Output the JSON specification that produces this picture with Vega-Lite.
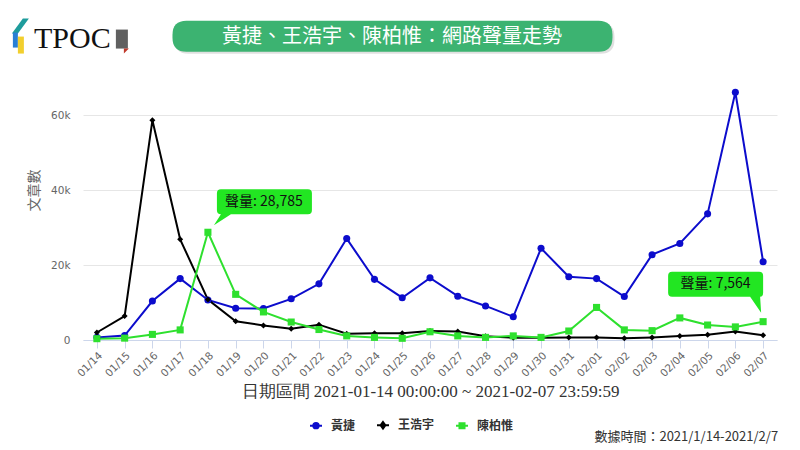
{
  "$schema": "https://vega.github.io/schema/vega-lite/v6.json",
  "width": 694,
  "height": 262,
  "autosize": {"type": "none"},
  "padding": {"left": 83, "top": 78, "right": 23, "bottom": 110},
  "background": "white",
  "config": {
    "view": {"stroke": null},
    "font": "Noto Sans CJK TC",
    "axisX": {
      "labelAngle": -45, "labelFont": "DejaVu Sans", "labelFontSize": 10.5, "labelColor": "#666666",
      "domainColor": "#ccd6eb", "tickColor": "#ccd6eb", "tickSize": 8, "labelPadding": 2, "grid": false,
      "titleFont": "Liberation Serif", "titleFontSize": 17, "titleColor": "#333333", "titleFontWeight": "normal",
      "titleY": 51, "titleBaseline": "middle"
    },
    "axisY": {
      "grid": true, "gridColor": "#e6e6e6", "domain": false, "ticks": false, "labelPadding": 13,
      "labelFont": "DejaVu Sans", "labelFontSize": 10.5, "labelColor": "#666666",
      "titleFont": "Noto Sans CJK TC", "titleFontSize": 14, "titleColor": "#666666", "titleFontWeight": "normal",
      "titleAngle": -90, "titleX": -49, "titleY": 112, "titleAlign": "center", "titleBaseline": "middle"
    }
  },
  "datasets": {
    "series": [
      {"date": "01/14", "name": "黃捷", "value": 700},
      {"date": "01/15", "name": "黃捷", "value": 1200},
      {"date": "01/16", "name": "黃捷", "value": 10400},
      {"date": "01/17", "name": "黃捷", "value": 16400},
      {"date": "01/18", "name": "黃捷", "value": 10700},
      {"date": "01/19", "name": "黃捷", "value": 8500},
      {"date": "01/20", "name": "黃捷", "value": 8400},
      {"date": "01/21", "name": "黃捷", "value": 11000},
      {"date": "01/22", "name": "黃捷", "value": 15000},
      {"date": "01/23", "name": "黃捷", "value": 27100},
      {"date": "01/24", "name": "黃捷", "value": 16200},
      {"date": "01/25", "name": "黃捷", "value": 11300},
      {"date": "01/26", "name": "黃捷", "value": 16600},
      {"date": "01/27", "name": "黃捷", "value": 11700},
      {"date": "01/28", "name": "黃捷", "value": 9100},
      {"date": "01/29", "name": "黃捷", "value": 6200},
      {"date": "01/30", "name": "黃捷", "value": 24500},
      {"date": "01/31", "name": "黃捷", "value": 16900},
      {"date": "02/01", "name": "黃捷", "value": 16400},
      {"date": "02/02", "name": "黃捷", "value": 11600},
      {"date": "02/03", "name": "黃捷", "value": 22800},
      {"date": "02/04", "name": "黃捷", "value": 25800},
      {"date": "02/05", "name": "黃捷", "value": 33700},
      {"date": "02/06", "name": "黃捷", "value": 66200},
      {"date": "02/07", "name": "黃捷", "value": 20900},
      {"date": "01/14", "name": "王浩宇", "value": 2000},
      {"date": "01/15", "name": "王浩宇", "value": 6400},
      {"date": "01/16", "name": "王浩宇", "value": 58700},
      {"date": "01/17", "name": "王浩宇", "value": 26900},
      {"date": "01/18", "name": "王浩宇", "value": 10800},
      {"date": "01/19", "name": "王浩宇", "value": 5000},
      {"date": "01/20", "name": "王浩宇", "value": 3900},
      {"date": "01/21", "name": "王浩宇", "value": 3000},
      {"date": "01/22", "name": "王浩宇", "value": 4100},
      {"date": "01/23", "name": "王浩宇", "value": 1700},
      {"date": "01/24", "name": "王浩宇", "value": 1800},
      {"date": "01/25", "name": "王浩宇", "value": 1800},
      {"date": "01/26", "name": "王浩宇", "value": 2400},
      {"date": "01/27", "name": "王浩宇", "value": 2300},
      {"date": "01/28", "name": "王浩宇", "value": 1000},
      {"date": "01/29", "name": "王浩宇", "value": 600},
      {"date": "01/30", "name": "王浩宇", "value": 600},
      {"date": "01/31", "name": "王浩宇", "value": 700},
      {"date": "02/01", "name": "王浩宇", "value": 700},
      {"date": "02/02", "name": "王浩宇", "value": 450},
      {"date": "02/03", "name": "王浩宇", "value": 700},
      {"date": "02/04", "name": "王浩宇", "value": 1070},
      {"date": "02/05", "name": "王浩宇", "value": 1400},
      {"date": "02/06", "name": "王浩宇", "value": 2300},
      {"date": "02/07", "name": "王浩宇", "value": 1300},
      {"date": "01/14", "name": "陳柏惟", "value": 350},
      {"date": "01/15", "name": "陳柏惟", "value": 500},
      {"date": "01/16", "name": "陳柏惟", "value": 1500},
      {"date": "01/17", "name": "陳柏惟", "value": 2700},
      {"date": "01/18", "name": "陳柏惟", "value": 28785},
      {"date": "01/19", "name": "陳柏惟", "value": 12200},
      {"date": "01/20", "name": "陳柏惟", "value": 7500},
      {"date": "01/21", "name": "陳柏惟", "value": 4800},
      {"date": "01/22", "name": "陳柏惟", "value": 2800},
      {"date": "01/23", "name": "陳柏惟", "value": 1100},
      {"date": "01/24", "name": "陳柏惟", "value": 700},
      {"date": "01/25", "name": "陳柏惟", "value": 450},
      {"date": "01/26", "name": "陳柏惟", "value": 2200},
      {"date": "01/27", "name": "陳柏惟", "value": 1100},
      {"date": "01/28", "name": "陳柏惟", "value": 700},
      {"date": "01/29", "name": "陳柏惟", "value": 1100},
      {"date": "01/30", "name": "陳柏惟", "value": 700},
      {"date": "01/31", "name": "陳柏惟", "value": 2400},
      {"date": "02/01", "name": "陳柏惟", "value": 8700},
      {"date": "02/02", "name": "陳柏惟", "value": 2700},
      {"date": "02/03", "name": "陳柏惟", "value": 2500},
      {"date": "02/04", "name": "陳柏惟", "value": 5900},
      {"date": "02/05", "name": "陳柏惟", "value": 4000},
      {"date": "02/06", "name": "陳柏惟", "value": 3500},
      {"date": "02/07", "name": "陳柏惟", "value": 4900}
    ],
    "notes": [
      {"date": "01/18", "value": 28785, "label": "聲量: 28,785", "side": "right"},
      {"date": "02/07", "value": 4900, "label": "聲量: 7,564", "side": "left"}
    ],
    "heading": [{"text": "黃捷、王浩宇、陳柏惟：網路聲量走勢"}],
    "footer": [{"text": "數據時間：2021/1/14-2021/2/7"}],
    "logo": [{"text": "TPOC"}]
  },
  "layer": [
    {
      "data": {"name": "series"},
      "mark": {"type": "line", "strokeWidth": 2},
      "encoding": {
        "x": {"field": "date", "type": "ordinal", "title": "日期區間 2021-01-14 00:00:00 ~ 2021-02-07 23:59:59",
              "scale": {"type": "point", "padding": 0.5, "domain": ["01/14","01/15","01/16","01/17","01/18","01/19","01/20","01/21","01/22","01/23","01/24","01/25","01/26","01/27","01/28","01/29","01/30","01/31","02/01","02/02","02/03","02/04","02/05","02/06","02/07"]}},
        "y": {"field": "value", "type": "quantitative", "title": "文章數",
              "scale": {"domain": [0, 70000], "nice": false},
              "axis": {"values": [0, 20000, 40000, 60000], "labelExpr": "datum.value == 0 ? '0' : (datum.value / 1000) + 'k'"}},
        "color": {"field": "name", "type": "nominal",
                  "scale": {"domain": ["黃捷", "王浩宇", "陳柏惟"], "range": ["#0c0ccc", "#000000", "#2ee02e"]},
                  "legend": {
                    "orient": "none", "legendX": 226, "legendY": 340, "direction": "horizontal", "title": null,
                    "symbolSize": 144, "labelFont": "Noto Sans CJK TC", "labelFontSize": 12, "labelFontWeight": "bold",
                    "labelColor": "#333333", "labelOffset": 8, "columnPadding": 17, "padding": 0,
                    "encode": {"symbols": {"update": {
                      "shape": {"signal": "datum.value === '黃捷' ? 'M-1,0L1,0M-0.45,0A0.45,0.45 0 1,0 0.45,0A0.45,0.45 0 1,0 -0.45,0Z' : datum.value === '王浩宇' ? 'M-1,0L1,0M0,-0.55L0.4,0L0,0.55L-0.4,0Z' : 'M-1,0L1,0M-0.42,-0.42L0.42,-0.42L0.42,0.42L-0.42,0.42Z'"},
                      "stroke": {"scale": "color", "field": "value"},
                      "fill": {"scale": "color", "field": "value"},
                      "strokeWidth": {"value": 2},
                      "opacity": {"value": 1}
                    }}}
                  }}
      }
    },
    {
      "data": {"name": "series"},
      "transform": [{"filter": "datum.name === '黃捷'"}],
      "mark": {"type": "point", "filled": true, "size": 50, "opacity": 1, "shape": "circle"},
      "encoding": {
        "x": {"field": "date", "type": "ordinal", "title": "日期區間 2021-01-14 00:00:00 ~ 2021-02-07 23:59:59"},
        "y": {"field": "value", "type": "quantitative", "title": "文章數"},
        "color": {"field": "name", "type": "nominal"}
      }
    },
    {
      "data": {"name": "series"},
      "transform": [{"filter": "datum.name === '王浩宇'"}],
      "mark": {"type": "point", "filled": true, "size": 36, "opacity": 1, "shape": "diamond"},
      "encoding": {
        "x": {"field": "date", "type": "ordinal", "title": "日期區間 2021-01-14 00:00:00 ~ 2021-02-07 23:59:59"},
        "y": {"field": "value", "type": "quantitative", "title": "文章數"},
        "color": {"field": "name", "type": "nominal"}
      }
    },
    {
      "data": {"name": "series"},
      "transform": [{"filter": "datum.name === '陳柏惟'"}],
      "mark": {"type": "point", "filled": true, "size": 50, "opacity": 1, "shape": "square"},
      "encoding": {
        "x": {"field": "date", "type": "ordinal", "title": "日期區間 2021-01-14 00:00:00 ~ 2021-02-07 23:59:59"},
        "y": {"field": "value", "type": "quantitative", "title": "文章數"},
        "color": {"field": "name", "type": "nominal"}
      }
    },
    {
      "data": {"name": "notes"},
      "transform": [{"filter": "datum.side === 'right'"}],
      "mark": {"type": "point", "filled": true, "size": 4, "opacity": 1, "color": "#22e622",
               "shape": "M13,-43L100,-43Q104,-43 104,-39L104,-22Q104,-18 100,-18L23,-18L6,-7L13,-18Q9,-18 9,-22L9,-39Q9,-43 13,-43Z"},
      "encoding": {
        "x": {"field": "date", "type": "ordinal", "title": "日期區間 2021-01-14 00:00:00 ~ 2021-02-07 23:59:59"},
        "y": {"field": "value", "type": "quantitative", "title": "文章數"}
      }
    },
    {
      "data": {"name": "notes"},
      "transform": [{"filter": "datum.side === 'right'"}],
      "mark": {"type": "text", "dx": 56, "dy": -30.5, "align": "center", "baseline": "middle", "fontSize": 14, "color": "#111111", "font": "Noto Sans CJK TC"},
      "encoding": {
        "x": {"field": "date", "type": "ordinal", "title": "日期區間 2021-01-14 00:00:00 ~ 2021-02-07 23:59:59"},
        "y": {"field": "value", "type": "quantitative", "title": "文章數"},
        "text": {"field": "label"}
      }
    },
    {
      "data": {"name": "notes"},
      "transform": [{"filter": "datum.side === 'left'"}],
      "mark": {"type": "point", "filled": true, "size": 4, "opacity": 1, "color": "#22e622",
               "shape": "M-91,-50L-4,-50Q0,-50 0,-46L0,-29Q0,-25 -3,-25L-2,-9L-13,-25L-91,-25Q-95,-25 -95,-29L-95,-46Q-95,-50 -91,-50Z"},
      "encoding": {
        "x": {"field": "date", "type": "ordinal", "title": "日期區間 2021-01-14 00:00:00 ~ 2021-02-07 23:59:59"},
        "y": {"field": "value", "type": "quantitative", "title": "文章數"}
      }
    },
    {
      "data": {"name": "notes"},
      "transform": [{"filter": "datum.side === 'left'"}],
      "mark": {"type": "text", "dx": -47.5, "dy": -37.5, "align": "center", "baseline": "middle", "fontSize": 14, "color": "#111111", "font": "Noto Sans CJK TC"},
      "encoding": {
        "x": {"field": "date", "type": "ordinal", "title": "日期區間 2021-01-14 00:00:00 ~ 2021-02-07 23:59:59"},
        "y": {"field": "value", "type": "quantitative", "title": "文章數"},
        "text": {"field": "label"}
      }
    },
    {
      "data": {"name": "heading"},
      "mark": {"type": "point", "filled": true, "size": 4, "opacity": 0.18, "color": "#555555",
               "shape": "M-186,-14L226,-14Q240,-14 240,0L240,3Q240,17 226,17L-186,17Q-200,17 -200,3L-200,0Q-200,-14 -186,-14Z"},
      "encoding": {
        "x": {"datum": "01/24", "type": "ordinal"},
        "y": {"datum": 81000, "type": "quantitative"}
      }
    },
    {
      "data": {"name": "heading"},
      "mark": {"type": "point", "filled": true, "size": 4, "opacity": 1, "color": "#3cb371",
               "shape": "M-188,-16L224,-16Q238,-16 238,-2L238,1Q238,15 224,15L-188,15Q-202,15 -202,1L-202,-2Q-202,-16 -188,-16Z"},
      "encoding": {
        "x": {"datum": "01/24", "type": "ordinal"},
        "y": {"datum": 81000, "type": "quantitative"}
      }
    },
    {
      "data": {"name": "heading"},
      "mark": {"type": "text", "dx": 17.5, "dy": 0, "align": "center", "baseline": "middle", "fontSize": 20, "color": "#ffffff", "font": "Noto Sans CJK TC"},
      "encoding": {
        "x": {"datum": "01/24", "type": "ordinal"},
        "y": {"datum": 81000, "type": "quantitative"},
        "text": {"field": "text"}
      }
    },
    {
      "data": {"name": "footer"},
      "mark": {"type": "text", "dx": 15, "align": "right", "baseline": "middle", "fontSize": 13, "color": "#333333", "font": "Noto Sans CJK TC"},
      "encoding": {
        "x": {"datum": "02/07", "type": "ordinal"},
        "y": {"datum": -26000, "type": "quantitative"},
        "text": {"field": "text"}
      }
    },
    {
      "data": {"name": "logo"},
      "mark": {"type": "point", "filled": true, "size": 4, "opacity": 1, "color": "#1e9c9c",
               "shape": "M-85,-7L-74,-22L-68,-22L-79,-7Z"},
      "encoding": {"x": {"datum": "01/14", "type": "ordinal"}, "y": {"datum": 80000, "type": "quantitative"}}
    },
    {
      "data": {"name": "logo"},
      "mark": {"type": "point", "filled": true, "size": 4, "opacity": 1, "color": "#2a7fd4",
               "shape": "M-84,-8L-79,-8L-79,7L-84,7Z"},
      "encoding": {"x": {"datum": "01/14", "type": "ordinal"}, "y": {"datum": 80000, "type": "quantitative"}}
    },
    {
      "data": {"name": "logo"},
      "mark": {"type": "point", "filled": true, "size": 4, "opacity": 1, "color": "#f2cf2e",
               "shape": "M-79,-4L-73,-4L-73,13L-79,13Z"},
      "encoding": {"x": {"datum": "01/14", "type": "ordinal"}, "y": {"datum": 80000, "type": "quantitative"}}
    },
    {
      "data": {"name": "logo"},
      "mark": {"type": "point", "filled": true, "size": 4, "opacity": 0.85, "color": "#444444",
               "shape": "M19,-11L31,-11L31,8L19,8Z"},
      "encoding": {"x": {"datum": "01/14", "type": "ordinal"}, "y": {"datum": 80000, "type": "quantitative"}}
    },
    {
      "data": {"name": "logo"},
      "mark": {"type": "point", "filled": true, "size": 4, "opacity": 1, "color": "#c0392b",
               "shape": "M27,8L32,8L27,13Z"},
      "encoding": {"x": {"datum": "01/14", "type": "ordinal"}, "y": {"datum": 80000, "type": "quantitative"}}
    },
    {
      "data": {"name": "logo"},
      "mark": {"type": "text", "dx": -24.5, "dy": 7.5, "align": "center", "baseline": "alphabetic", "fontSize": 30, "color": "#111111", "font": "Liberation Serif"},
      "encoding": {
        "x": {"datum": "01/14", "type": "ordinal"},
        "y": {"datum": 80000, "type": "quantitative"},
        "text": {"field": "text"}
      }
    }
  ]
}
